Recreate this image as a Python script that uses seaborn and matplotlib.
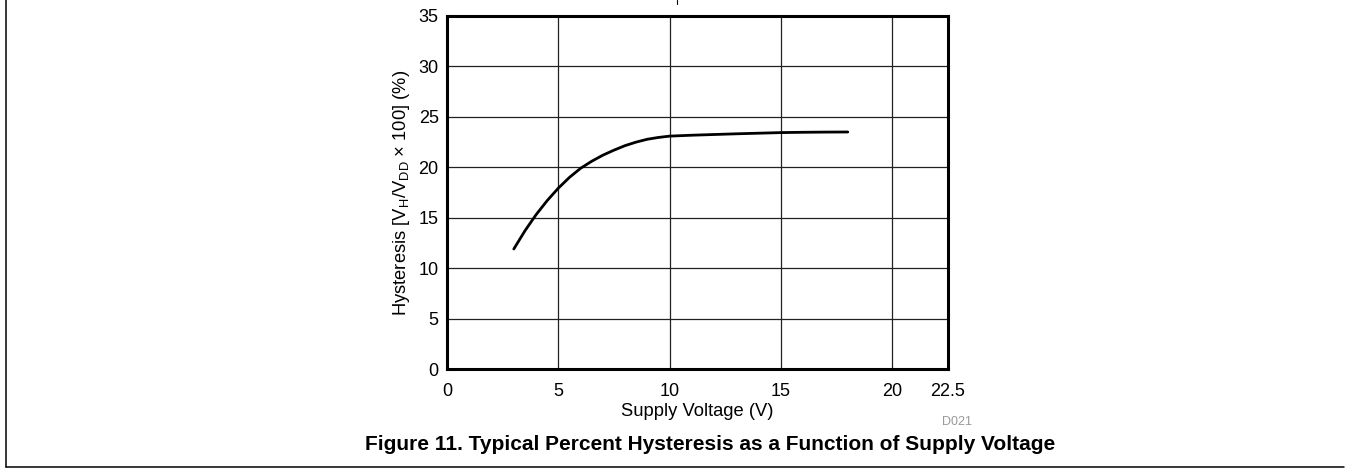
import matplotlib
matplotlib.use("Agg")
import matplotlib.pyplot as plt
from matplotlib.lines import Line2D
import seaborn as sns
import pandas as pd

# Data
supply_voltage = [3.0, 3.5, 4.0, 4.5, 5.0, 5.5, 6.0, 6.5, 7.0, 7.5, 8.0, 8.5, 9.0, 9.5,
                  10.0, 11.0, 12.0, 13.0, 14.0, 15.0, 16.0, 17.0, 18.0]
hysteresis_pct = [11.9, 13.7, 15.3, 16.7, 17.93, 19.0, 19.9, 20.6, 21.2, 21.7, 22.15, 22.5, 22.78, 22.96,
                  23.09, 23.18, 23.25, 23.32, 23.38, 23.44, 23.47, 23.49, 23.5]
x_ticks = [0, 5, 10, 15, 20, 22.5]
x_tick_labels = ["0", "5", "10", "15", "20", "22.5"]
y_ticks = [0, 5, 10, 15, 20, 25, 30, 35]

sns.set_theme(style="white")
plt.rcParams["font.family"] = ["Liberation Sans", "DejaVu Sans"]
plt.rcParams["mathtext.fontset"] = "custom"
plt.rcParams["mathtext.rm"] = "Liberation Sans"
plt.rcParams["mathtext.it"] = "Liberation Sans:italic"
plt.rcParams["mathtext.default"] = "regular"

W, H = 1347, 470
fig = plt.figure(figsize=(W / 100, H / 100), dpi=100)
ax = fig.add_axes([447 / W, 1 - 369 / H, (948 - 447) / W, (369 - 16) / H])

df = pd.DataFrame({"V": supply_voltage, "H": hysteresis_pct})
sns.lineplot(data=df, x="V", y="H", ax=ax, color="black", linewidth=2.0, zorder=3)

ax.set_xlim(0, 22.5)
ax.set_ylim(0, 35)
ax.set_xticks(x_ticks)
ax.set_xticklabels(x_tick_labels)
ax.set_yticks(y_ticks)
ax.tick_params(axis="both", length=0, labelsize=13, colors="black")
ax.tick_params(axis="x", pad=10)
ax.tick_params(axis="y", pad=6)
for v in [5, 10, 15, 20]:
    ax.axvline(v, color="#222222", linewidth=0.9, zorder=1)
for v in [5, 10, 15, 20, 25, 30]:
    ax.axhline(v, color="#222222", linewidth=0.9, zorder=1)
for s in ax.spines.values():
    s.set_visible(True)
    s.set_color("black")
    s.set_linewidth(2.2)

ax.set_xlabel("Supply Voltage (V)", fontsize=13.2, color="black", labelpad=2)
ax.set_ylabel("Hysteresis [V$_{H}$/V$_{DD}$ × 100] (%)", fontsize=13.2, color="black", labelpad=5)

fig.text(957 / W, 1 - 422 / H, "D021", fontsize=9, color="#999999", ha="center", va="center")
fig.text(710 / W, 1 - 445 / H, "Figure 11. Typical Percent Hysteresis as a Function of Supply Voltage",
         fontsize=15, fontweight="bold", color="black", ha="center", va="center")

# page frame lines
fig.add_artist(Line2D([6 / W, 6 / W], [1, 1 - 467 / H], color="black", linewidth=1.1))
fig.add_artist(Line2D([6 / W, 1344 / W], [1 - 467 / H, 1 - 467 / H], color="black", linewidth=1.1))
fig.add_artist(Line2D([677 / W, 677 / W], [1, 1 - 4 / H], color="black", linewidth=0.8))

fig.savefig("out.png", dpi=100, facecolor="white")
